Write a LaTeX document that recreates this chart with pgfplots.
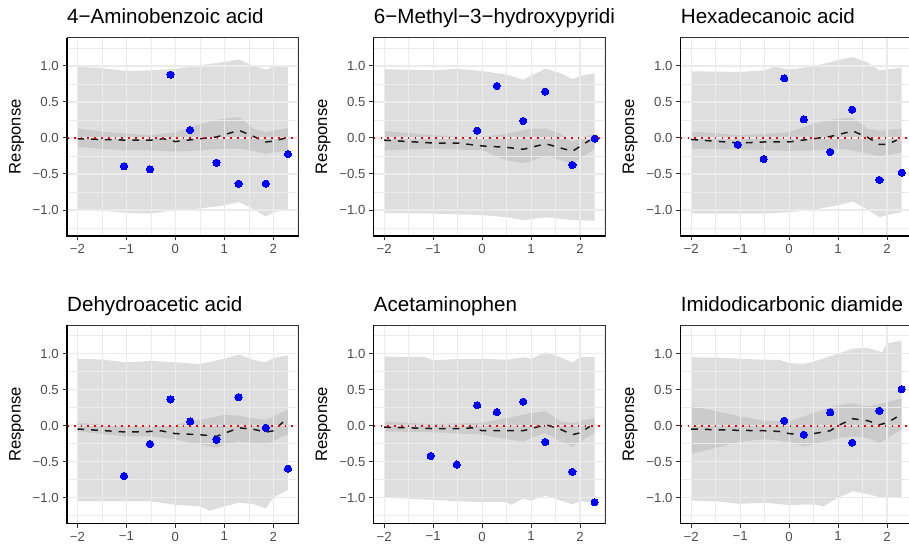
\documentclass[border=0pt]{standalone}
\usepackage{pgfplots}
\pgfplotsset{compat=1.18}
\usepackage{fontspec}
\setmainfont{Liberation Sans}
\definecolor{gridc}{HTML}{EBEBEB}
\definecolor{tickc}{HTML}{4D4D4D}
\definecolor{bordc}{HTML}{333333}
\definecolor{ptblue}{HTML}{0000FF}
\pgfplotsset{
  panel/.style={
    set layers=standard,
    scale only axis, width=231.5pt, height=198.4pt,
    xmin=-2.215, xmax=2.515, ymin=-1.361, ymax=1.394,
    xtick={-2,-1,0,1,2}, xticklabels={−2,−1,0,1,2},
    ytick={-1,-0.5,0,0.5,1}, yticklabels={−1.0,−0.5,0.0,0.5,1.0},
    minor xtick={-1.5,-0.5,0.5,1.5,2.5},
    minor ytick={-1.25,-0.75,-0.25,0.25,0.75,1.25},
    grid=both,
    major grid style={gridc, line width=1.1pt},
    minor grid style={gridc, line width=0.55pt},
    tick align=outside, tick pos=left,
    major tick length=4.5pt, minor tick length=0pt,
    every tick/.style={bordc, line width=1pt},
    axis line style={bordc, line width=0.8pt},
    tick label style={font=\fontsize{13.2}{14}\selectfont, text=tickc, inner sep=0pt},
    xticklabel style={anchor=north, yshift=-3.5pt},
    yticklabel style={anchor=east, xshift=-3.5pt},
    every axis title/.style={font=\fontsize{20.6}{22}\selectfont, at={(axis description cs:0,1.069)}, anchor=base west, inner sep=0pt},
    every axis y label/.style={at={(axis description cs:-0.2181,0.5)}, rotate=90, anchor=center, inner sep=0pt, font=\fontsize{16.6}{18}\selectfont},
    ylabel={Response},
    clip mode=individual,
  },
  outerband/.style={fill=black, fill opacity=0.13, draw=none, on layer=axis background},
  innerband/.style={fill=black, fill opacity=0.085, draw=none, on layer=axis background},
  fitline/.style={black!90, line width=1.5pt, dash pattern=on 6.7pt off 7pt},
  zeroline/.style={color=red, draw=red, line width=1.7pt, dash pattern=on 1.7pt off 5.1pt},
  pts/.style={color=ptblue, only marks, mark=*, mark size=3.6pt, mark options={fill=ptblue, draw=ptblue, line width=0pt}},
}
\newcommand{\axlines}{\draw[black, line width=1.4pt] (rel axis cs:0,1) -- (rel axis cs:0,0) -- (rel axis cs:1,0);}
\begin{document}
\begin{tikzpicture}[x=1pt,y=1pt]
% ---------- Panel 1 ----------
\begin{axis}[panel, at={(67pt,308pt)}, anchor=south west, title={4−Aminobenzoic acid}]
\addplot[outerband] coordinates {(-2,0.99) (-1.5,0.97) (-1,0.93) (-0.5,0.94) (0,0.96) (0.5,1.01) (1,1.056) (1.3,1.09) (1.6,1.0) (1.845,0.95) (2,0.99) (2.3,1.0)
 (2.3,-1.0) (2,-1.03) (1.845,-1.09) (1.6,-0.99) (1.3,-0.89) (1,-0.935) (0.5,-0.98) (0,-1.0) (-0.5,-1.05) (-1,-1.04) (-1.5,-1.01) (-2,-0.99)};
\addplot[innerband] coordinates {(-2,0.13) (-1.5,0.09) (-1,0.06) (-0.5,0.04) (0,0.08) (0.5,0.19) (1,0.27) (1.3,0.29) (1.6,0.13) (1.845,0.08) (2.3,0.14)
 (2.3,-0.17) (1.845,-0.22) (1.6,-0.18) (1.3,-0.15) (1,-0.15) (0.5,-0.17) (0,-0.19) (-0.5,-0.17) (-1,-0.17) (-1.5,-0.15) (-2,-0.125)};
\addplot[fitline] coordinates {(-2,-0.01) (-1.5,-0.02) (-1,-0.03) (-0.5,-0.03) (-0.25,-0.01) (0,-0.05) (0.5,-0.01) (0.84,0.014) (1.3,0.106) (1.6,0.02) (1.845,-0.055) (2.0,-0.045) (2.25,0)};
\addplot[zeroline] coordinates {(-2.215,0) (2.515,0)};
\addplot[pts] coordinates {(-1.05,-0.394) (-0.52,-0.435) (-0.10,0.880) (0.30,0.111) (0.84,-0.343) (1.29,-0.634) (1.845,-0.634) (2.30,-0.222)};
\axlines
\end{axis}
% ---------- Panel 2 ----------
\begin{axis}[panel, at={(373.7pt,308pt)}, anchor=south west, title={6−Methyl−3−hydroxypyridi}]
\addplot[outerband] coordinates {(-2,0.954) (-1,0.94) (-0.5,0.96) (0,0.93) (0.5,0.88) (0.84,0.81) (1.3,0.963) (1.6,0.9) (1.845,0.815) (2,0.86) (2.3,0.90)
 (2.3,-1.15) (1.845,-1.14) (1.3,-1.10) (0.84,-1.14) (0.5,-1.10) (0,-1.07) (-1,-1.05) (-2,-1.04)};
\addplot[innerband] coordinates {(-2,0.097) (-1,0.04) (-0.5,0.02) (0,0.014) (0.5,0.06) (1,0.13) (1.3,0.13) (1.6,0.06) (1.845,-0.055) (2.3,0.06)
 (2.3,-0.15) (1.845,-0.36) (1.3,-0.24) (1,-0.32) (0.84,-0.35) (0.5,-0.31) (0,-0.17) (-1,-0.15) (-2,-0.17)};
\addplot[fitline] coordinates {(-2,-0.03) (-1,-0.07) (-0.5,-0.07) (0,-0.11) (0.5,-0.13) (0.84,-0.157) (1.3,-0.08) (1.845,-0.185) (2.2,-0.03)};
\addplot[zeroline] coordinates {(-2.215,0) (2.515,0)};
\addplot[pts] coordinates {(-0.10,0.102) (0.30,0.722) (0.84,0.236) (1.29,0.644) (1.845,-0.375) (2.30,-0.009)};
\axlines
\end{axis}
% ---------- Panel 3 ----------
\begin{axis}[panel, at={(680.7pt,308pt)}, anchor=south west, title={Hexadecanoic acid}]
\addplot[outerband] coordinates {(-2,0.926) (-1,0.917) (-0.5,0.94) (-0.3,0.99) (0,0.95) (0.5,0.995) (1,1.08) (1.3,1.125) (1.6,1.05) (1.845,0.94) (2.3,0.977)
 (2.3,-1.03) (2,-1.07) (1.845,-1.10) (1.6,-0.995) (1.3,-0.88) (1,-0.935) (0.5,-0.995) (0,-1.03) (-0.5,-1.05) (-1,-1.05) (-2,-1.05)};
\addplot[innerband] coordinates {(-2,0.09) (-1,0.04) (0,0.08) (0.5,0.2) (1,0.27) (1.3,0.28) (1.6,0.13) (1.845,0.1) (2.3,0.13)
 (2.3,-0.2) (1.845,-0.255) (1.3,-0.17) (1,-0.15) (0.5,-0.17) (0,-0.18) (-1,-0.16) (-2,-0.15)};
\addplot[fitline] coordinates {(-2,-0.02) (-1,-0.07) (-0.5,-0.055) (0,-0.055) (0.5,-0.01) (0.84,0.02) (1.3,0.097) (1.6,0.01) (1.845,-0.09) (2.0,-0.09) (2.2,-0.03)};
\addplot[zeroline] coordinates {(-2.215,0) (2.515,0)};
\addplot[pts] coordinates {(-1.05,-0.093) (-0.52,-0.292) (-0.10,0.829) (0.30,0.259) (0.84,-0.194) (1.29,0.394) (1.845,-0.583) (2.30,-0.481)};
\axlines
\end{axis}
% ---------- Panel 4 ----------
\begin{axis}[panel, at={(67pt,20.3pt)}, anchor=south west, title={Dehydroacetic acid}]
\addplot[outerband] coordinates {(-2,0.93) (-1.5,0.92) (-1,0.88) (-0.5,0.90) (0,0.88) (0.5,0.855) (1,0.93) (1.3,0.99) (1.6,0.91) (1.845,0.88) (2,0.94) (2.3,0.975)
 (2.3,-0.89) (2,-1.0) (1.845,-1.15) (1.6,-1.09) (1.3,-1.07) (1,-1.12) (0.7,-1.18) (0.5,-1.12) (0,-1.10) (-0.5,-1.05) (-1,-1.05) (-2,-1.05)};
\addplot[innerband] coordinates {(-2,0.04) (-1,-0.01) (-0.5,-0.01) (0,0.014) (0.5,0.08) (1,0.15) (1.3,0.14) (1.6,0.1) (1.845,0.08) (2.3,0.22)
 (2.3,-0.12) (1.845,-0.26) (1.3,-0.22) (1,-0.26) (0.84,-0.31) (0.5,-0.26) (0,-0.19) (-0.5,-0.15) (-1,-0.15) (-2,-0.08)};
\addplot[fitline] coordinates {(-2,-0.046) (-1,-0.088) (-0.5,-0.08) (-0.3,-0.07) (0,-0.11) (0.5,-0.125) (0.84,-0.148) (1.3,-0.03) (1.6,-0.05) (1.845,-0.09) (2.0,-0.07) (2.2,0.05)};
\addplot[zeroline] coordinates {(-2.215,0) (2.515,0)};
\addplot[pts] coordinates {(-1.05,-0.698) (-0.52,-0.254) (-0.10,0.365) (0.30,0.060) (0.84,-0.194) (1.29,0.397) (1.845,-0.028) (2.30,-0.596)};
\axlines
\end{axis}
% ---------- Panel 5 ----------
\begin{axis}[panel, at={(373.7pt,20.3pt)}, anchor=south west, title={Acetaminophen}]
\addplot[outerband] coordinates {(-2,0.96) (-1.5,0.95) (-1.2,0.96) (-1,0.91) (-0.5,0.925) (0,0.93) (0.5,0.915) (0.84,0.95) (1,0.93) (1.3,1.02) (1.6,0.95) (1.845,0.88) (2,0.95) (2.3,0.955)
 (2.3,-1.07) (2,-1.05) (1.845,-1.09) (1.6,-1.04) (1.3,-0.97) (1,-1.04) (0.84,-1.01) (0.6,-1.1) (0.5,-1.06) (0,-1.06) (-0.5,-1.05) (-1,-1.03) (-2,-1.0)};
\addplot[innerband] coordinates {(-2,0.06) (-1,0.02) (0,0.04) (0.5,0.106) (1,0.175) (1.3,0.2) (1.6,0.06) (1.845,0.04) (2.3,0.106)
 (2.3,-0.1) (1.845,-0.29) (1.6,-0.22) (1.3,-0.1) (1,-0.17) (0.84,-0.22) (0.5,-0.19) (0,-0.125) (-1,-0.09) (-2,-0.08)};
\addplot[fitline] coordinates {(-2,-0.02) (-1,-0.04) (-0.5,-0.04) (-0.2,-0.03) (0,-0.07) (0.5,-0.07) (0.84,-0.07) (1.3,0.014) (1.6,-0.05) (1.845,-0.125) (2.0,-0.1) (2.2,-0.01)};
\addplot[zeroline] coordinates {(-2.215,0) (2.515,0)};
\addplot[pts] coordinates {(-1.05,-0.420) (-0.52,-0.540) (-0.10,0.286) (0.30,0.189) (0.84,0.333) (1.29,-0.226) (1.845,-0.642) (2.30,-1.062)};
\axlines
\end{axis}
% ---------- Panel 6 ----------
\begin{axis}[panel, at={(680.7pt,20.3pt)}, anchor=south west, title={Imidodicarbonic diamide}]
\addplot[outerband] coordinates {(-2,0.95) (-1.5,0.945) (-1,0.93) (-0.5,0.915) (-0.2,0.915) (0,0.87) (0.3,0.86) (0.5,0.89) (1,1.0) (1.3,1.07) (1.6,1.08) (1.9,1.02) (2,1.145) (2.3,1.18)
 (2.3,-1.0) (1.845,-0.99) (1.6,-0.95) (1.3,-0.91) (1,-1.0) (0.7,-1.12) (0.5,-1.095) (0,-1.1) (-0.5,-1.07) (-1,-1.085) (-1.5,-1.05) (-2,-1.04)};
\addplot[innerband] coordinates {(-2,0.28) (-1.5,0.2) (-1,0.13) (-0.5,0.07) (0,0.06) (0.5,0.175) (1,0.29) (1.3,0.31) (1.6,0.27) (1.845,0.30) (2.3,0.38)
 (2.3,-0.055) (1.845,-0.24) (1.6,-0.17) (1.3,-0.15) (1,-0.17) (0.5,-0.26) (0.3,-0.29) (0,-0.22) (-0.5,-0.19) (-1,-0.22) (-1.5,-0.31) (-2,-0.39)};
\addplot[fitline] coordinates {(-2,-0.046) (-1,-0.065) (-0.5,-0.07) (-0.2,-0.08) (0,-0.11) (0.3,-0.125) (0.5,-0.11) (0.84,-0.07) (1,0) (1.3,0.097) (1.6,0.07) (1.845,0.014) (2.0,0.04) (2.2,0.12)};
\addplot[zeroline] coordinates {(-2.215,0) (2.515,0)};
\addplot[pts] coordinates {(-0.10,0.069) (0.30,-0.125) (0.84,0.185) (1.29,-0.236) (1.845,0.208) (2.30,0.508)};
\axlines
\end{axis}
\pgfresetboundingbox
\useasboundingbox (0pt,0pt) rectangle (909pt,544pt);
\end{tikzpicture}
\end{document}
